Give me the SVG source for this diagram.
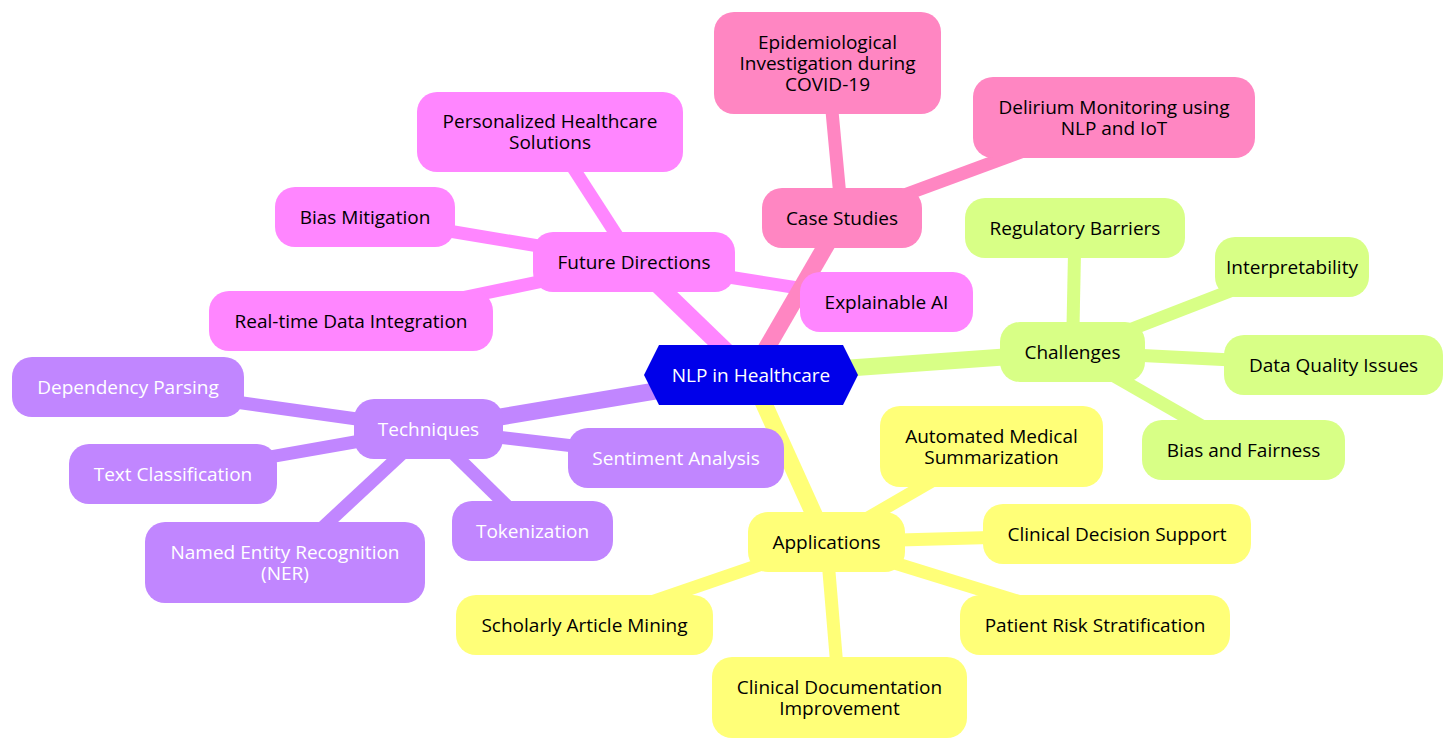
<svg xmlns="http://www.w3.org/2000/svg" width="1456" height="752" viewBox="0 0 1456 752">
<style>
  .t { font-family: "Open Sans", "DejaVu Sans", sans-serif; font-size: 19px; text-anchor: middle; fill: #000; }
  .w { fill: #fff; }
  .e0 { stroke-width: 17; fill: none; stroke-linecap: butt; }
  .e1 { stroke-width: 13; fill: none; stroke-linecap: butt; }
  .purple { fill: #c186ff; }
  .yellow { fill: #ffff78; }
  .green { fill: #d8ff86; }
  .magenta { fill: #ff86ff; }
  .pink { fill: #ff86c2; }
  .sp { stroke: #c186ff; }
  .sy { stroke: #ffff78; }
  .sg { stroke: #d8ff86; }
  .sm { stroke: #ff86ff; }
  .sk { stroke: #ff86c2; }
</style>
<rect width="1456" height="752" fill="#fff"/>
<g id="connectors">
  <line class="e0 sp" x1="751" y1="375" x2="428.5" y2="429"/>
  <line class="e1 sp" x1="428.5" y1="429" x2="128" y2="387"/>
  <line class="e1 sp" x1="428.5" y1="429" x2="173" y2="474"/>
  <line class="e1 sp" x1="428.5" y1="429" x2="285" y2="562.5"/>
  <line class="e1 sp" x1="428.5" y1="429" x2="532.5" y2="531"/>
  <line class="e1 sp" x1="428.5" y1="429" x2="676" y2="458"/>
  <line class="e0 sy" x1="751" y1="375" x2="826.5" y2="542"/>
  <line class="e1 sy" x1="826.5" y1="542" x2="991.5" y2="446.5"/>
  <line class="e1 sy" x1="826.5" y1="542" x2="1117" y2="534"/>
  <line class="e1 sy" x1="826.5" y1="542" x2="1095" y2="625"/>
  <line class="e1 sy" x1="826.5" y1="542" x2="839.5" y2="697.5"/>
  <line class="e1 sy" x1="826.5" y1="542" x2="584.5" y2="625"/>
  <line class="e0 sg" x1="751" y1="375" x2="1072.5" y2="352"/>
  <line class="e1 sg" x1="1072.5" y1="352" x2="1075" y2="228"/>
  <line class="e1 sg" x1="1072.5" y1="352" x2="1292" y2="267"/>
  <line class="e1 sg" x1="1072.5" y1="352" x2="1333.5" y2="365"/>
  <line class="e1 sg" x1="1072.5" y1="352" x2="1243.5" y2="450"/>
  <line class="e0 sm" x1="751" y1="375" x2="634" y2="262"/>
  <line class="e1 sm" x1="634" y1="262" x2="550" y2="132"/>
  <line class="e1 sm" x1="634" y1="262" x2="365" y2="217"/>
  <line class="e1 sm" x1="634" y1="262" x2="351" y2="321"/>
  <line class="e1 sm" x1="634" y1="262" x2="886.5" y2="302"/>
  <line class="e0 sk" x1="751" y1="375" x2="842" y2="218"/>
  <line class="e1 sk" x1="842" y1="218" x2="827.5" y2="63"/>
  <line class="e1 sk" x1="842" y1="218" x2="1114" y2="117.5"/>
</g>

<g id="root">
  <polygon points="644,375 659,345 843,345 858,375 843,405 659,405" fill="#0000ea"/>
  <text class="t w" x="751" y="381.5">NLP in Healthcare</text>
</g>

<g id="case-studies">
  <rect class="pink" x="762" y="188" width="160" height="60" rx="20"/>
  <text class="t" x="842" y="224.5">Case Studies</text>
</g>
<g id="epidemiological">
  <rect class="pink" x="714" y="12" width="227" height="102" rx="20"/>
  <text class="t" x="827.5" y="48.5">Epidemiological<tspan x="827.5" dy="21">Investigation during</tspan><tspan x="827.5" dy="21">COVID-19</tspan></text>
</g>
<g id="delirium">
  <rect class="pink" x="973" y="77" width="282" height="81" rx="20"/>
  <text class="t" x="1114" y="113.5">Delirium Monitoring using<tspan x="1114" dy="21">NLP and IoT</tspan></text>
</g>

<g id="future-directions">
  <rect class="magenta" x="533" y="232" width="202" height="60" rx="20"/>
  <text class="t" x="634" y="268.5">Future Directions</text>
</g>
<g id="personalized">
  <rect class="magenta" x="417" y="92" width="266" height="80" rx="20"/>
  <text class="t" x="550" y="128">Personalized Healthcare<tspan x="550" dy="21">Solutions</tspan></text>
</g>
<g id="bias-mitigation">
  <rect class="magenta" x="275" y="187" width="180" height="60" rx="20"/>
  <text class="t" x="365" y="223.5">Bias Mitigation</text>
</g>
<g id="real-time">
  <rect class="magenta" x="209" y="291" width="284" height="60" rx="20"/>
  <text class="t" x="351" y="327.5">Real-time Data Integration</text>
</g>
<g id="explainable-ai">
  <rect class="magenta" x="800" y="272" width="173" height="60" rx="20"/>
  <text class="t" x="886.5" y="308.5">Explainable AI</text>
</g>

<g id="challenges">
  <rect class="green" x="1000" y="322" width="145" height="60" rx="20"/>
  <text class="t" x="1072.5" y="358.5">Challenges</text>
</g>
<g id="regulatory">
  <rect class="green" x="965" y="198" width="220" height="60" rx="20"/>
  <text class="t" x="1075" y="234.5">Regulatory Barriers</text>
</g>
<g id="interpretability">
  <rect class="green" x="1215" y="237" width="154" height="60" rx="20"/>
  <text class="t" x="1292" y="273.5">Interpretability</text>
</g>
<g id="data-quality">
  <rect class="green" x="1224" y="335" width="219" height="60" rx="20"/>
  <text class="t" x="1333.5" y="371.5">Data Quality Issues</text>
</g>
<g id="bias-fairness">
  <rect class="green" x="1142" y="420" width="203" height="60" rx="20"/>
  <text class="t" x="1243.5" y="456.5">Bias and Fairness</text>
</g>

<g id="applications">
  <rect class="yellow" x="748" y="512" width="157" height="60" rx="20"/>
  <text class="t" x="826.5" y="548.5">Applications</text>
</g>
<g id="automated">
  <rect class="yellow" x="880" y="406" width="223" height="81" rx="20"/>
  <text class="t" x="991.5" y="442.5">Automated Medical<tspan x="991.5" dy="21">Summarization</tspan></text>
</g>
<g id="clinical-decision">
  <rect class="yellow" x="983" y="504" width="268" height="60" rx="20"/>
  <text class="t" x="1117" y="540.5">Clinical Decision Support</text>
</g>
<g id="patient-risk">
  <rect class="yellow" x="960" y="595" width="270" height="60" rx="20"/>
  <text class="t" x="1095" y="631.5">Patient Risk Stratification</text>
</g>
<g id="clinical-documentation">
  <rect class="yellow" x="712" y="657" width="255" height="81" rx="20"/>
  <text class="t" x="839.5" y="693.5">Clinical Documentation<tspan x="839.5" dy="21">Improvement</tspan></text>
</g>
<g id="scholarly">
  <rect class="yellow" x="456" y="595" width="257" height="60" rx="20"/>
  <text class="t" x="584.5" y="631.5">Scholarly Article Mining</text>
</g>

<g id="techniques">
  <rect class="purple" x="354" y="399" width="149" height="60" rx="20"/>
  <text class="t w" x="428.5" y="435.5">Techniques</text>
</g>
<g id="dependency">
  <rect class="purple" x="12" y="357" width="232" height="60" rx="20"/>
  <text class="t w" x="128" y="393.5">Dependency Parsing</text>
</g>
<g id="text-classification">
  <rect class="purple" x="69" y="444" width="208" height="60" rx="20"/>
  <text class="t w" x="173" y="480.5">Text Classification</text>
</g>
<g id="ner">
  <rect class="purple" x="145" y="522" width="280" height="81" rx="20"/>
  <text class="t w" x="285" y="558.5">Named Entity Recognition<tspan x="285" dy="21">(NER)</tspan></text>
</g>
<g id="tokenization">
  <rect class="purple" x="452" y="501" width="161" height="60" rx="20"/>
  <text class="t w" x="532.5" y="537.5">Tokenization</text>
</g>
<g id="sentiment">
  <rect class="purple" x="568" y="428" width="216" height="60" rx="20"/>
  <text class="t w" x="676" y="464.5">Sentiment Analysis</text>
</g>
</svg>
